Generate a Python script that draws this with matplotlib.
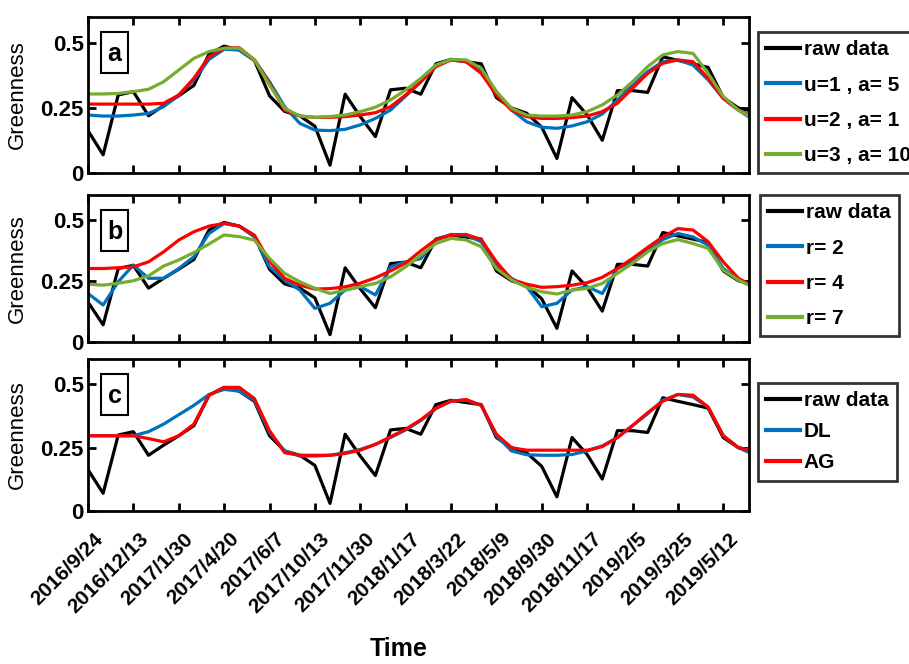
import numpy as np
import matplotlib
matplotlib.use("Agg")
import matplotlib.pyplot as plt
from matplotlib.patches import Rectangle
from matplotlib.transforms import ScaledTranslation

# === Data ====================================================================
dates = ["2016/9/24", "2016/12/13", "2017/1/30", "2017/4/20", "2017/6/7",
         "2017/10/13", "2017/11/30", "2018/1/17", "2018/3/22", "2018/5/9",
         "2018/9/30", "2018/11/17", "2019/2/5", "2019/3/25", "2019/5/12"]

raw = [0.163, 0.07, 0.30, 0.313, 0.22, 0.26, 0.297, 0.337, 0.457, 0.488,
       0.473, 0.433, 0.297, 0.237, 0.22, 0.18, 0.03, 0.303, 0.217, 0.14,
       0.32, 0.326, 0.303, 0.42, 0.437, 0.428, 0.42, 0.29, 0.25, 0.23,
       0.176, 0.056, 0.29, 0.223, 0.126, 0.317, 0.317, 0.31, 0.447, 0.433,
       0.42, 0.406, 0.29, 0.25, 0.237]

# panel a: different u / a settings
a_u1 = [0.223, 0.219, 0.219, 0.223, 0.229, 0.255, 0.30, 0.358, 0.437, 0.476,
        0.473, 0.435, 0.351, 0.255, 0.191, 0.165, 0.163, 0.168, 0.185, 0.21,
        0.242, 0.296, 0.35, 0.415, 0.435, 0.428, 0.39, 0.313, 0.242, 0.197,
        0.176, 0.172, 0.181, 0.197, 0.227, 0.28, 0.338, 0.39, 0.428, 0.435,
        0.415, 0.358, 0.287, 0.242, 0.204]
a_u2 = [0.265, 0.265, 0.265, 0.265, 0.265, 0.268, 0.30, 0.364, 0.447, 0.48,
        0.482, 0.435, 0.345, 0.242, 0.219, 0.214, 0.214, 0.217, 0.223, 0.232,
        0.255, 0.30, 0.351, 0.409, 0.435, 0.428, 0.383, 0.30, 0.242, 0.217,
        0.21, 0.21, 0.213, 0.219, 0.236, 0.268, 0.326, 0.383, 0.422, 0.435,
        0.428, 0.364, 0.287, 0.242, 0.217]
a_u3 = [0.304, 0.304, 0.306, 0.313, 0.322, 0.351, 0.396, 0.441, 0.467, 0.48,
        0.48, 0.435, 0.338, 0.249, 0.219, 0.214, 0.217, 0.223, 0.236, 0.253,
        0.281, 0.319, 0.364, 0.415, 0.437, 0.435, 0.403, 0.313, 0.249, 0.223,
        0.219, 0.219, 0.223, 0.236, 0.262, 0.30, 0.351, 0.409, 0.454, 0.467,
        0.46, 0.383, 0.294, 0.242, 0.21]

# panel b: different r
b_r2 = [0.198, 0.151, 0.246, 0.314, 0.26, 0.26, 0.30, 0.348, 0.443, 0.484,
        0.473, 0.429, 0.307, 0.253, 0.212, 0.137, 0.158, 0.212, 0.226, 0.192,
        0.307, 0.327, 0.34, 0.416, 0.439, 0.436, 0.409, 0.314, 0.26, 0.226,
        0.144, 0.158, 0.212, 0.226, 0.198, 0.30, 0.327, 0.375, 0.418, 0.443,
        0.429, 0.395, 0.30, 0.253, 0.226]
b_r4 = [0.30, 0.30, 0.303, 0.307, 0.327, 0.368, 0.416, 0.45, 0.473, 0.484,
        0.473, 0.436, 0.33, 0.26, 0.232, 0.216, 0.218, 0.225, 0.24, 0.262,
        0.29, 0.322, 0.372, 0.418, 0.436, 0.439, 0.418, 0.327, 0.255, 0.236,
        0.223, 0.226, 0.232, 0.242, 0.264, 0.30, 0.341, 0.386, 0.429, 0.463,
        0.457, 0.409, 0.327, 0.26, 0.226]
b_r7 = [0.236, 0.232, 0.24, 0.25, 0.27, 0.31, 0.335, 0.365, 0.40, 0.437,
        0.43, 0.416, 0.341, 0.28, 0.246, 0.219, 0.198, 0.212, 0.226, 0.239,
        0.266, 0.307, 0.355, 0.402, 0.423, 0.416, 0.389, 0.30, 0.253, 0.223,
        0.205, 0.196, 0.212, 0.219, 0.239, 0.28, 0.321, 0.368, 0.402, 0.418,
        0.402, 0.382, 0.293, 0.253, 0.223]

# panel c: DL vs AG
c_dl = [0.297, 0.297, 0.297, 0.297, 0.313, 0.343, 0.38, 0.417, 0.46, 0.48,
        0.473, 0.437, 0.31, 0.237, 0.217, 0.217, 0.22, 0.23, 0.243, 0.263,
        0.29, 0.32, 0.357, 0.404, 0.435, 0.437, 0.417, 0.297, 0.237, 0.222,
        0.22, 0.22, 0.223, 0.237, 0.257, 0.29, 0.337, 0.384, 0.437, 0.46,
        0.45, 0.41, 0.297, 0.25, 0.223]
c_ag = [0.297, 0.297, 0.297, 0.297, 0.286, 0.273, 0.297, 0.343, 0.457, 0.488,
        0.488, 0.444, 0.317, 0.23, 0.22, 0.22, 0.22, 0.227, 0.24, 0.263,
        0.293, 0.323, 0.36, 0.406, 0.433, 0.44, 0.417, 0.303, 0.25, 0.24,
        0.24, 0.24, 0.24, 0.24, 0.254, 0.29, 0.337, 0.388, 0.433, 0.46,
        0.457, 0.41, 0.297, 0.25, 0.237]

BLUE, RED, GREEN = "#0072BD", "#FF0000", "#77AC30"
plt.rcParams["font.family"] = ["Liberation Sans", "DejaVu Sans"]

x = np.arange(len(raw))
tick_pos = x[::3]

# === Figure ==================================================================
W, H = 909, 664
fig = plt.figure(figsize=(W / 100, H / 100), dpi=100)
# axes boxes in pixels: left, top, right, bottom
px_boxes = [(88, 17, 749, 173), (88, 195, 749, 342), (88, 359, 749, 511)]

panels = [
    ("a", [("raw data", raw, "k"), ("u=1 , a= 5", a_u1, BLUE),
           ("u=2 , a= 1", a_u2, RED), ("u=3 , a= 10", a_u3, GREEN)],
     (758, 32), 0.78),
    ("b", [("raw data", raw, "k"), ("r= 2", b_r2, BLUE),
           ("r= 4", b_r4, RED), ("r= 7", b_r7, GREEN)],
     (760, 195), 0.78),
    ("c", [("raw data", raw, "k"), ("DL", c_dl, BLUE), ("AG", c_ag, RED)],
     (758, 383), 0.58),
]

for i, (tag, series, leg_px, lspace) in enumerate(panels):
    l, t, r, b = px_boxes[i]
    ax = fig.add_axes((l / W, 1 - b / H, (r - l) / W, (b - t) / H))
    for lab, vals, col in series:
        ax.plot(x, vals, color=col, lw=2.3, label=lab)

    ax.set_xlim(0, 43.7)
    ax.set_ylim(0, 0.6)
    ax.set_yticks([0, 0.25, 0.5])
    ax.set_yticklabels(["0", "0.25", "0.5"], fontweight="bold", fontsize=16)
    ax.set_xticks(tick_pos)
    ax.tick_params(direction="in", length=6, width=2, top=True, right=True, pad=3)
    for s in ax.spines.values():
        s.set_linewidth(2)

    ax.set_ylabel("Greenness", fontsize=16)
    ax.yaxis.set_label_coords(-0.091, 0.5)

    # panel tag box (27 x 41 px, 13 px from left, 15 px from top)
    aw, ah = r - l, b - t
    ax.add_patch(Rectangle((13 / aw, 1 - 56 / ah), 27 / aw, 41 / ah,
                           transform=ax.transAxes, fc="white", ec="k", lw=1.5,
                           zorder=5))
    ax.text(26.5 / aw, 1 - 37 / ah, tag, transform=ax.transAxes, ha="center",
            va="center", fontsize=18, fontweight="bold", zorder=6)

    leg = ax.legend(loc="upper left",
                    bbox_to_anchor=(leg_px[0] / W, 1 - leg_px[1] / H),
                    bbox_transform=fig.transFigure, borderaxespad=0,
                    frameon=True, fancybox=False, edgecolor="k",
                    prop=dict(weight="bold", size=15), handlelength=1.6,
                    handletextpad=0.2, labelspacing=lspace, borderpad=0.4)
    leg.get_frame().set_linewidth(2)
    for h in leg.get_lines():
        h.set_linewidth(3)

    if i < 2:
        ax.set_xticklabels([])
    else:
        ax.set_xticklabels(dates, rotation=45, ha="right", va="top",
                           rotation_mode="anchor", fontweight="bold", fontsize=15)
        shift = ScaledTranslation(5 / 100, -14 / 100, fig.dpi_scale_trans)
        for lbl in ax.get_xticklabels():
            lbl.set_transform(lbl.get_transform() + shift)
        ax.set_xlabel("Time", fontsize=18, fontweight="bold")
        ax.xaxis.set_label_coords(0.47, -0.83)

fig.savefig("out.png", dpi=100)
